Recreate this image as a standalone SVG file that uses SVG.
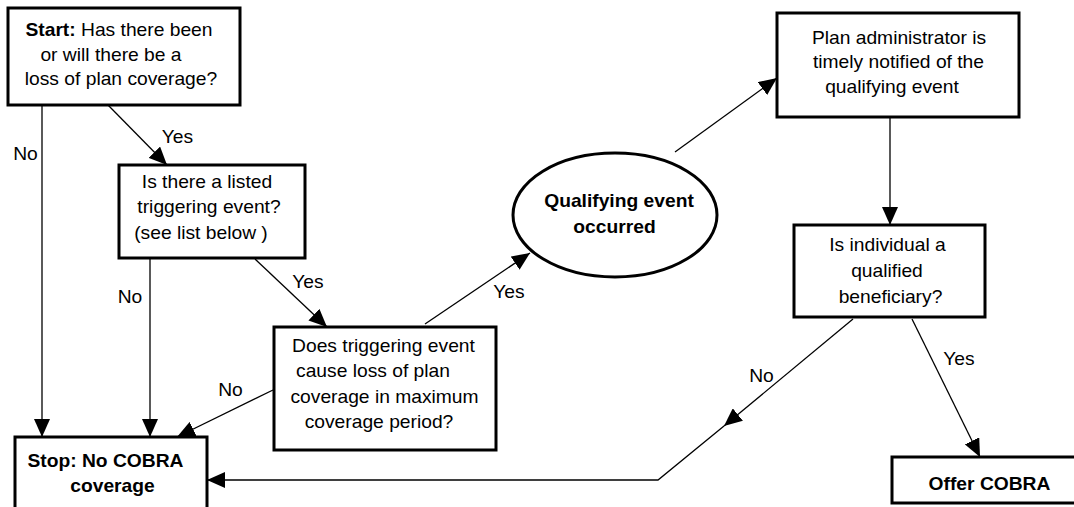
<svg xmlns="http://www.w3.org/2000/svg" width="1074" height="507" viewBox="0 0 1074 507">
<style>
.box{fill:#fff;stroke:#000;stroke-width:3}
.t{font-family:"Liberation Sans",Arial,sans-serif;font-size:17.5px;fill:#000;text-anchor:middle;transform-box:fill-box;transform-origin:center;transform:scaleX(1.1)}
.b{font-weight:bold}
.c{fill:none;stroke:#000;stroke-width:1.3}
</style>
<defs>
<marker id="ah" markerUnits="userSpaceOnUse" markerWidth="18" markerHeight="16" refX="18" refY="8" orient="auto">
<path d="M0,0 L18,8 L0,16 z" fill="#000"/>
</marker>
</defs>
<rect width="1074" height="507" fill="#fff"/>
<g id="connectors">
<line class="c" x1="42" y1="104" x2="42" y2="437" marker-end="url(#ah)"/>
<line class="c" x1="107" y1="104" x2="167" y2="165" marker-end="url(#ah)"/>
<line class="c" x1="150" y1="258" x2="150" y2="437" marker-end="url(#ah)"/>
<line class="c" x1="255" y1="259" x2="327" y2="327" marker-end="url(#ah)"/>
<line class="c" x1="273" y1="390" x2="177" y2="437" marker-end="url(#ah)"/>
<line class="c" x1="425" y1="324" x2="530" y2="253" marker-end="url(#ah)"/>
<line class="c" x1="675" y1="152" x2="777" y2="78" marker-end="url(#ah)"/>
<line class="c" x1="890" y1="117" x2="890" y2="225" marker-end="url(#ah)"/>
<line class="c" x1="853" y1="319" x2="724" y2="426" marker-end="url(#ah)"/>
<polyline class="c" points="724,426 658,480 207,480" marker-end="url(#ah)"/>
<line class="c" x1="912" y1="319" x2="980" y2="457" marker-end="url(#ah)"/>
<text class="t" x="25.5" y="160">No</text>
<text class="t" x="177.5" y="143">Yes</text>
<text class="t" x="130" y="303">No</text>
<text class="t" x="308" y="288">Yes</text>
<text class="t" x="230.5" y="396">No</text>
<text class="t" x="509" y="298">Yes</text>
<text class="t" x="761.5" y="382">No</text>
<text class="t" x="959" y="365">Yes</text>
</g>
<g id="start">
<rect class="box" x="8" y="8" width="232" height="97"/>
<text class="t" x="119" y="36"><tspan class="b">Start:</tspan> Has there been</text>
<text class="t" x="111" y="61">or will there be a</text>
<text class="t" x="121" y="85">loss of plan coverage?</text>
</g>
<g id="listed">
<rect class="box" x="119" y="165" width="186" height="93"/>
<text class="t" x="207" y="188">Is there a listed</text>
<text class="t" x="209" y="213">triggering event?</text>
<text class="t" x="201" y="239">(see list below )</text>
</g>
<g id="causes">
<rect class="box" x="274" y="327" width="222" height="123"/>
<text class="t" x="383.5" y="352">Does triggering event</text>
<text class="t" x="373" y="377">cause loss of plan</text>
<text class="t" x="384.5" y="403">coverage in maximum</text>
<text class="t" x="379" y="428">coverage period?</text>
</g>
<g id="stop">
<rect class="box" x="15" y="437" width="192" height="90"/>
<text class="t b" x="105.5" y="467">Stop: No COBRA</text>
<text class="t b" x="112.5" y="492">coverage</text>
</g>
<g id="qualifying">
<ellipse class="box" cx="615" cy="215" rx="102" ry="62"/>
<text class="t b" x="619" y="207">Qualifying event</text>
<text class="t b" x="614.5" y="233">occurred</text>
</g>
<g id="notified">
<rect class="box" x="777" y="13" width="242" height="104"/>
<text class="t" x="899" y="44">Plan administrator is</text>
<text class="t" x="898.5" y="68">timely notified of the</text>
<text class="t" x="892" y="93">qualifying event</text>
</g>
<g id="beneficiary">
<rect class="box" x="794" y="225" width="191" height="92"/>
<text class="t" x="887.5" y="251">Is individual a</text>
<text class="t" x="887" y="277">qualified</text>
<text class="t" x="890.5" y="303">beneficiary?</text>
</g>
<g id="offer">
<rect class="box" x="892" y="457" width="190" height="46"/>
<text class="t b" x="989.5" y="490">Offer COBRA</text>
</g>
</svg>
